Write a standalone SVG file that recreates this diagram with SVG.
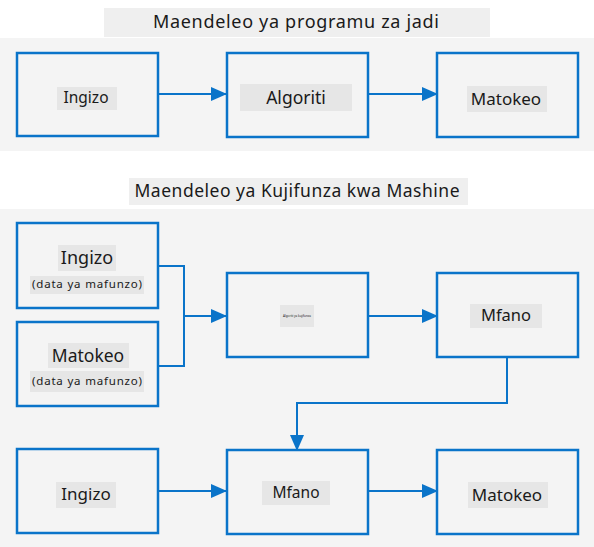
<svg xmlns="http://www.w3.org/2000/svg" width="594" height="547" viewBox="0 0 594 547">
<style>
.panel{fill:#f4f4f4}
.ttlbg{fill:#efefef}
.box{fill:#f4f4f4;stroke:#0a74c9;stroke-width:2.5}
.lbg{fill:#e6e6e6}
.t{font-family:"Noto Sans","Open Sans",sans-serif;fill:#1a1a1a;text-anchor:middle}
.conn{fill:none;stroke:#0a74c9;stroke-width:2}
</style>
<defs>
<marker id="ah" markerWidth="16" markerHeight="14" refX="15" refY="7" orient="auto" markerUnits="userSpaceOnUse">
<path d="M0,0 L16,7 L0,14 Z" fill="#0a74c9"/>
</marker>
</defs>
<rect width="594" height="547" fill="#ffffff"/>
<g id="panel1">
<rect class="panel" x="0" y="38" width="594" height="113"/>
<rect class="ttlbg" x="104" y="8" width="386" height="29"/>
<text class="t" x="296" y="28" font-size="18" textLength="286" lengthAdjust="spacing">Maendeleo ya programu za jadi</text>
</g>
<g id="panel2">
<rect class="panel" x="0" y="209" width="594" height="338"/>
<rect class="ttlbg" x="129" y="178" width="339" height="27"/>
<text class="t" x="297" y="197" font-size="17.5" textLength="325" lengthAdjust="spacing">Maendeleo ya Kujifunza kwa Mashine</text>
</g>
<g id="connectors">
<path class="conn" d="M158,94 H226" marker-end="url(#ah)"/>
<path class="conn" d="M368,94 H437" marker-end="url(#ah)"/>
<path class="conn" d="M158,266 H184 V366 H158"/>
<path class="conn" d="M184,316 H226" marker-end="url(#ah)"/>
<path class="conn" d="M368,316 H437" marker-end="url(#ah)"/>
<path class="conn" d="M507,357 V403 H297 V450" marker-end="url(#ah)"/>
<path class="conn" d="M158,491 H226" marker-end="url(#ah)"/>
<path class="conn" d="M368,491 H437" marker-end="url(#ah)"/>
</g>
<g id="n1-ingizo">
<rect class="box" x="17" y="53" width="141" height="83"/>
<rect class="lbg" x="57" y="87" width="60" height="23"/>
<text class="t" x="86" y="103" font-size="15.5">Ingizo</text>
</g>
<g id="n1-algoriti">
<rect class="box" x="227" y="53" width="141" height="84"/>
<rect class="lbg" x="240" y="84" width="112" height="27"/>
<text class="t" x="296" y="104" font-size="17.5">Algoriti</text>
</g>
<g id="n1-matokeo">
<rect class="box" x="437" y="53" width="141" height="84"/>
<rect class="lbg" x="467" y="86" width="80" height="26"/>
<text class="t" x="506" y="105" font-size="17">Matokeo</text>
</g>
<g id="n2-ingizo">
<rect class="box" x="17" y="223" width="141" height="85"/>
<rect class="lbg" x="58" y="245" width="58" height="26"/>
<text class="t" x="87" y="264" font-size="18">Ingizo</text>
<rect class="lbg" x="30" y="276" width="114" height="18"/>
<text class="t" x="87" y="288" font-size="11.5" textLength="110" lengthAdjust="spacing">(data ya mafunzo)</text>
</g>
<g id="n2-matokeo">
<rect class="box" x="17" y="322" width="141" height="84"/>
<rect class="lbg" x="48" y="343" width="81" height="25"/>
<text class="t" x="88" y="362" font-size="17.5">Matokeo</text>
<rect class="lbg" x="30" y="371" width="114" height="21"/>
<text class="t" x="87" y="385" font-size="11.5" textLength="110" lengthAdjust="spacing">(data ya mafunzo)</text>
</g>
<g id="n2-algoriti">
<rect class="box" x="227" y="273" width="141" height="84"/>
<rect class="lbg" x="280" y="305" width="34" height="22"/>
<text class="t" x="297" y="317" font-size="3">Algoriti ya kujifunza</text>
</g>
<g id="n2-mfano">
<rect class="box" x="437" y="273" width="141" height="84"/>
<rect class="lbg" x="470" y="304" width="72" height="24"/>
<text class="t" x="506" y="321" font-size="16.5">Mfano</text>
</g>
<g id="n3-ingizo">
<rect class="box" x="17" y="449" width="141" height="84"/>
<rect class="lbg" x="56" y="482" width="60" height="26"/>
<text class="t" x="86" y="500" font-size="17">Ingizo</text>
</g>
<g id="n3-mfano">
<rect class="box" x="227" y="450" width="141" height="84"/>
<rect class="lbg" x="262" y="481" width="68" height="24"/>
<text class="t" x="296" y="498" font-size="15.5">Mfano</text>
</g>
<g id="n3-matokeo">
<rect class="box" x="437" y="450" width="141" height="84"/>
<rect class="lbg" x="468" y="482" width="80" height="26"/>
<text class="t" x="507" y="501" font-size="17">Matokeo</text>
</g>
</svg>
